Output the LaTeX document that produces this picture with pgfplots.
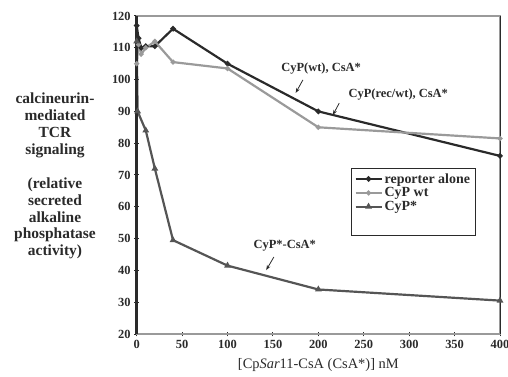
\documentclass[border=0pt]{standalone}
\usepackage{pgfplots}
\pgfplotsset{compat=1.18}
\usepackage{fontspec}
\setmainfont{Liberation Serif}
\usetikzlibrary{arrows.meta}
\definecolor{repc}{HTML}{2A2A2A}
\definecolor{wtc}{HTML}{9A9A9A}
\definecolor{starc}{HTML}{555555}
\begin{document}
\begin{tikzpicture}
\path[use as bounding box] (0,0) rectangle (508bp,377bp);
\begin{axis}[
  at={(136.7bp,43bp)}, anchor=south west,
  scale only axis, width=363.3bp, height=318bp,
  xmin=0, xmax=400, ymin=20, ymax=120,
  xtick={0,50,...,400}, ytick={20,30,...,120},
  xtick pos=bottom, ytick pos=left,
  tick align=center, major tick length=5bp,
  tick style={repc, line width=1pt},
  axis line style={draw=wtc, line width=1.5pt},
  /pgf/number format/assume math mode=true,
  ticklabel style={font=\fontsize{12.5}{13}\selectfont\bfseries, text=repc},
  xlabel={[Cp\textit{Sar}11-CsA (CsA*)] nM},
  xlabel style={font=\fontsize{14.5}{15}\selectfont, text=repc, yshift=-3bp},
  legend style={at={(0.59,0.522)}, anchor=north west, draw=repc, line width=0.8pt,
    font=\fontsize{14}{14}\selectfont\bfseries, text=repc, cells={anchor=west},
    row sep=-1bp, inner xsep=3bp, inner ysep=3bp},
  legend image code/.code={\draw[#1] (0bp,0bp) -- (26bp,0bp); \path[#1, only marks] plot coordinates {(13bp,0bp)};},
  clip=false,
]
\addplot[repc, line width=2.2pt, mark=*, mark size=1.5pt] coordinates {
 (0,117) (2,113) (5,110) (10,110.5) (20,110.5) (40,116) (100,105) (200,90) (400,76)};
\addlegendentry{reporter alone}
\addplot[wtc, line width=2.2pt, mark=*, mark size=1.3pt] coordinates {
 (0,105) (2,111) (5,108) (10,110) (20,112) (40,105.5) (100,103.5) (200,85) (400,81.5)};
\addlegendentry{CyP wt}
\addplot[starc, line width=2.2pt, mark=triangle*, mark size=1.8pt] coordinates {
 (0,112) (1,90) (10,84) (20,72) (40,49.5) (100,41.5) (200,34) (400,30.5)};
\addlegendentry{CyP*}
\addlegendimage{empty legend}\addlegendentry{\rule{0pt}{14bp}}
\draw[repc, line width=2.5pt] (rel axis cs:0,0) -- (rel axis cs:0,1);
\draw[repc, line width=1pt] (rel axis cs:1,0) -- (rel axis cs:1,1);
\node[font=\fontsize{12.5}{13}\selectfont\bfseries, text=repc] at (axis cs:203,103.6) {CyP(wt), CsA*};
\node[font=\fontsize{12.5}{13}\selectfont\bfseries, text=repc] at (axis cs:288,95.2) {CyP(rec/wt), CsA*};
\node[font=\fontsize{12.5}{13}\selectfont\bfseries, text=repc] at (axis cs:163,47.7) {CyP*-CsA*};
\draw[repc, line width=0.8pt, -{Stealth[length=5bp]}] (axis cs:183,99.9) -- (axis cs:175,95.8);
\draw[repc, line width=0.8pt, -{Stealth[length=5bp]}] (axis cs:223,92.6) -- (axis cs:216,88.9);
\draw[repc, line width=0.8pt, -{Stealth[length=5bp]}] (axis cs:151,44.2) -- (axis cs:142.6,40.1);
\end{axis}
\node[align=center, font=\fontsize{15.5}{17}\selectfont\bfseries, text=repc] at (55bp,201bp)
 {calcineurin-\\mediated\\TCR\\signaling\\[17bp](relative\\secreted\\alkaline\\phosphatase\\activity)};
\end{tikzpicture}
\end{document}
